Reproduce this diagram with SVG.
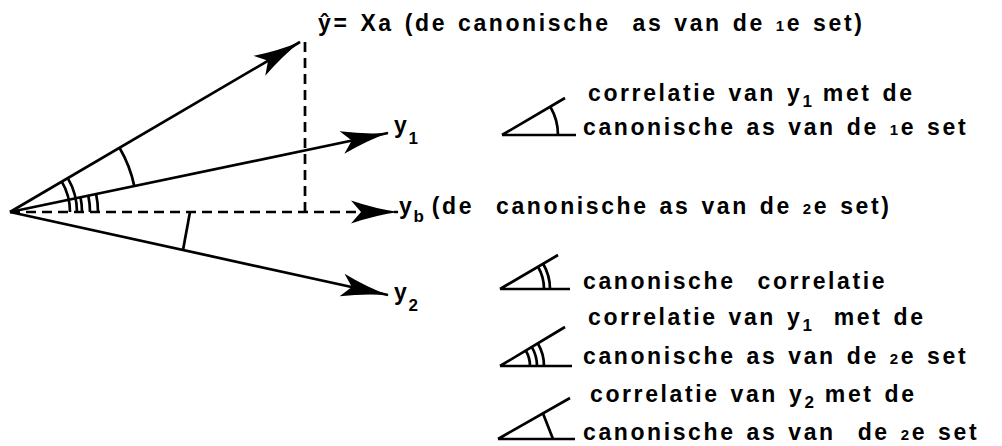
<svg xmlns="http://www.w3.org/2000/svg" width="1002" height="446" viewBox="0 0 1002 446">
<style>
.ln{stroke:#000;stroke-width:2.7;fill:none}
.ds{stroke:#000;stroke-width:2.7;fill:none;stroke-dasharray:10 6}
.mk{stroke:#000;stroke-width:2.7;fill:none}
text{font-family:"Liberation Sans",Arial,sans-serif;font-weight:bold;font-size:23px;fill:#000;letter-spacing:2.6px;word-spacing:2px;white-space:pre}
.sm{font-size:15px}
.sub{font-size:17px;letter-spacing:0}
</style>
<defs>
<marker id="ah" markerUnits="userSpaceOnUse" markerWidth="52" markerHeight="28" viewBox="-49 -14 52 28" refX="0" refY="0" orient="auto">
<path d="M1,0 Q-22,-3 -47,-11.5 L-37,0 L-47,11.5 Q-22,3 1,0 Z" fill="#000"/>
</marker>
</defs>
<rect width="1002" height="446" fill="#fff"/>
<g id="connectors">
<path class="ln" d="M10,212 L300,42" marker-end="url(#ah)"/>
<path class="ln" d="M10,212 L388,133" marker-end="url(#ah)"/>
<path class="ds" d="M10,212 L398,212" marker-end="url(#ah)"/>
<path class="ln" d="M10,212 L388,295" marker-end="url(#ah)"/>
<path class="ds" d="M305,42 L305,212"/>
</g>
<g id="angle-marks">
<path class="mk" d="M119.5,147.7 A127,127 0 0 1 134.3,186.1"/>
<path class="mk" d="M61.8,181.6 A60,60 0 0 1 70,212"/>
<path class="mk" d="M67.8,178.1 A67,67 0 0 1 77,212"/>
<path class="mk" d="M80.5,197.3 A72,72 0 0 1 82,212"/>
<path class="mk" d="M88.3,195.6 A80,80 0 0 1 90,212"/>
<path class="mk" d="M96.1,194 A88,88 0 0 1 98,212"/>
<path class="mk" d="M190,212 L183,250"/>
</g>
<g id="label-yhat">
<text x="318" y="31">ŷ= Xa (de canonische  as van de <tspan class="sm">1</tspan>e set)</text>
</g>
<g id="label-y1">
<text x="394" y="133">y<tspan class="sub" dx="-1" dy="11">1</tspan></text>
</g>
<g id="label-yb">
<text x="399" y="214">y<tspan class="sub" dx="-1" dy="8">b</tspan><tspan dy="-8" dx="8">(de  canonische as van de <tspan class="sm">2</tspan>e set)</tspan></text>
</g>
<g id="label-y2">
<text x="394" y="300">y<tspan class="sub" dx="-1" dy="11">2</tspan></text>
</g>
<g id="legend-1">
<path class="mk" d="M502,135 L576,135 M502,135 L565,98"/>
<path class="mk" d="M550.3,106.7 A56,56 0 0 1 558,135"/>
<text x="588" y="101">correlatie van y<tspan class="sub" dy="6">1</tspan><tspan dy="-6"> met de</tspan></text>
<text x="583" y="135">canonische as van de <tspan class="sm">1</tspan>e set</text>
</g>
<g id="legend-2">
<path class="mk" d="M500,289 L570,289 M500,289 L558,255"/>
<path class="mk" d="M538,266.7 A44,44 0 0 1 544,289"/>
<path class="mk" d="M543.1,263.7 A50,50 0 0 1 550,289"/>
<text x="583" y="289">canonische  correlatie</text>
</g>
<g id="legend-3">
<path class="mk" d="M500,366 L572,366 M500,366 L565,327"/>
<path class="mk" d="M525.7,350.5 A30,30 0 0 1 530,366"/>
<path class="mk" d="M531.7,346.9 A37,37 0 0 1 537,366"/>
<path class="mk" d="M537.7,343.3 A44,44 0 0 1 544,366"/>
<text x="588" y="325">correlatie van y<tspan class="sub" dy="6">1</tspan><tspan dy="-6">  met de</tspan></text>
<text x="583" y="364">canonische as van de <tspan class="sm">2</tspan>e set</text>
</g>
<g id="legend-4">
<path class="mk" d="M498,439 L575,439 M498,439 L570,398"/>
<path class="mk" d="M543,413.4 L553,439"/>
<text x="590" y="402">correlatie van y<tspan class="sub" dy="6">2</tspan><tspan dy="-6"> met de</tspan></text>
<text x="583" y="440">canonische as van  de <tspan class="sm">2</tspan>e set</text>
</g>
</svg>
